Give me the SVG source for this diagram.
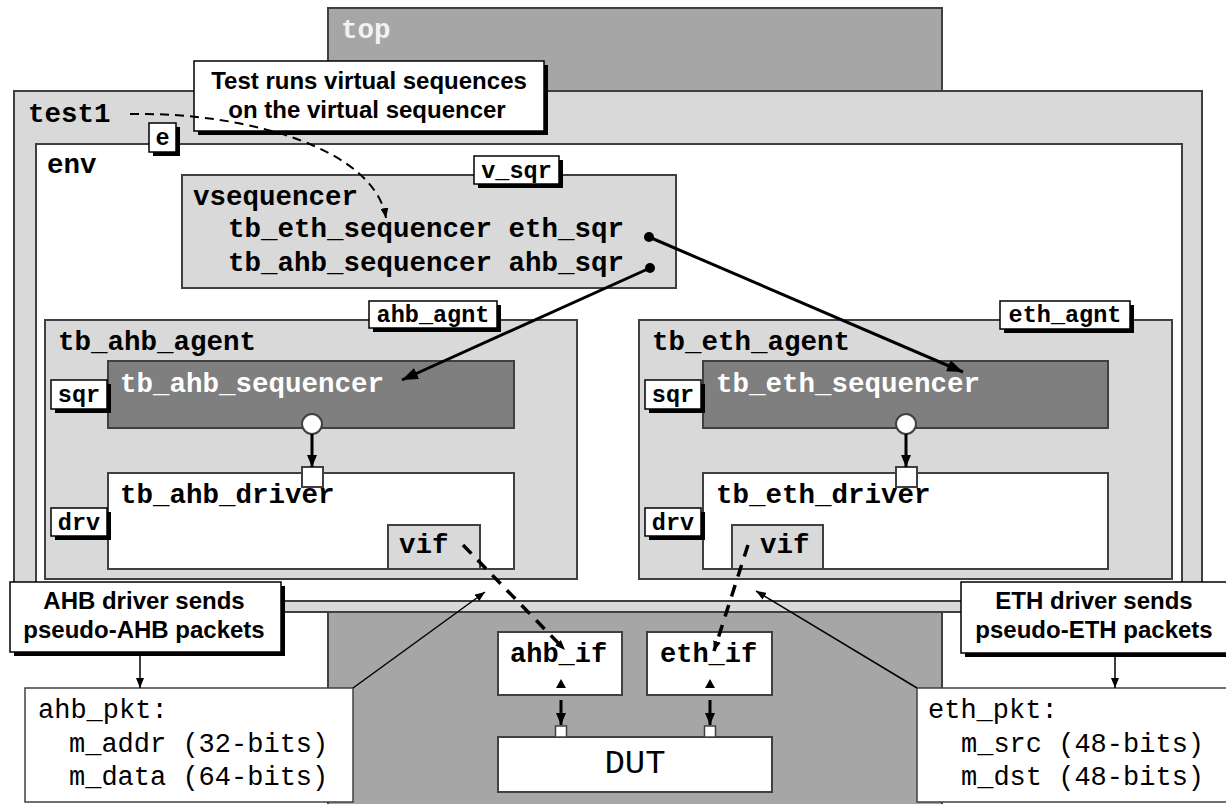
<svg xmlns="http://www.w3.org/2000/svg" width="1226" height="804" viewBox="0 0 1226 804">
<defs>
<style>
.box{stroke:#404040;stroke-width:2}
.lb{fill:#fff;stroke:#000;stroke-width:1.5}
.sh{fill:#000}
.mono{font-family:"Liberation Mono","DejaVu Sans Mono",monospace;font-weight:bold;font-size:27.5px;fill:#000}
.monoR{font-family:"Liberation Mono","DejaVu Sans Mono",monospace;font-weight:normal;font-size:27px;fill:#000}
.lbl{font-family:"Liberation Mono","DejaVu Sans Mono",monospace;font-weight:bold;font-size:23.5px;fill:#000;text-anchor:middle}
.sans{font-family:"Liberation Sans",Arial,sans-serif;font-weight:bold;font-size:24px;fill:#000;text-anchor:middle}
.thick{stroke:#000;stroke-width:3;fill:none}
.thin{stroke:#000;stroke-width:1.5;fill:none}
.dash{stroke:#000;stroke-width:3.5;fill:none;stroke-dasharray:12 9}
</style>
<marker id="ah" viewBox="0 0 16 12" markerUnits="userSpaceOnUse" markerWidth="16" markerHeight="12" refX="16" refY="6" orient="auto"><path d="M0,0 L16,6 L0,12 Z" fill="#000"/></marker>
<marker id="am" viewBox="0 0 12 10" markerUnits="userSpaceOnUse" markerWidth="12" markerHeight="10" refX="12" refY="5" orient="auto"><path d="M0,0 L12,5 L0,10 Z" fill="#000"/></marker>
<marker id="as" viewBox="0 0 10 8" markerUnits="userSpaceOnUse" markerWidth="10" markerHeight="8" refX="10" refY="4" orient="auto"><path d="M0,0 L10,4 L0,8 Z" fill="#000"/></marker>
</defs>
<rect width="1226" height="804" fill="#fff"/>

<g id="top">
<rect x="328" y="8" width="614" height="810" fill="#a6a6a6" class="box"/>
<text x="341" y="38" class="mono" fill="#f2f2f2" style="fill:#f2f2f2">top</text>
</g>

<g id="test1">
<rect x="14" y="91" width="1188" height="521" fill="#d9d9d9" class="box"/>
<text x="28" y="122" class="mono">test1</text>
</g>

<g id="env">
<rect x="36" y="144" width="1146" height="457" fill="#fff" class="box"/>
<text x="47" y="173" class="mono">env</text>
<rect x="153" y="127" width="27" height="29" class="sh"/>
<rect x="149" y="123" width="27" height="29" class="lb"/>
<text x="162.5" y="145" class="lbl">e</text>
</g>

<g id="vsequencer">
<rect x="182" y="175" width="494" height="113" fill="#d9d9d9" class="box"/>
<text x="193" y="205" class="mono">vsequencer</text>
<text x="228" y="237" class="mono">tb_eth_sequencer eth_sqr</text>
<text x="228" y="271" class="mono">tb_ahb_sequencer ahb_sqr</text>
<rect x="478" y="160" width="85" height="28" class="sh"/>
<rect x="474" y="156" width="85" height="28" class="lb"/>
<text x="516.5" y="178" class="lbl">v_sqr</text>
<circle cx="649" cy="237" r="5" fill="#000"/>
<circle cx="650" cy="268" r="5" fill="#000"/>
</g>

<g id="tb_ahb_agent">
<rect x="45" y="320" width="532" height="259" fill="#d9d9d9" class="box"/>
<text x="58" y="350" class="mono">tb_ahb_agent</text>
<rect x="373" y="305" width="128" height="27" class="sh"/>
<rect x="369" y="301" width="128" height="27" class="lb"/>
<text x="433" y="322" class="lbl">ahb_agnt</text>
</g>

<g id="tb_ahb_sequencer">
<rect x="108" y="361" width="406" height="67" fill="#7f7f7f" class="box"/>
<text x="120" y="392" class="mono" style="fill:#fff">tb_ahb_sequencer</text>
<rect x="55" y="384" width="56" height="29" class="sh"/>
<rect x="51" y="380" width="56" height="29" class="lb"/>
<text x="79" y="402" class="lbl">sqr</text>
<circle cx="312" cy="424" r="10" fill="#fff" class="box"/>
</g>

<g id="tb_ahb_driver">
<rect x="108" y="473" width="406" height="96" fill="#fff" class="box"/>
<text x="120" y="503" class="mono">tb_ahb_driver</text>
<rect x="302" y="467" width="21" height="20" fill="#fff" class="box"/>
<rect x="55" y="512" width="56" height="28" class="sh"/>
<rect x="51" y="508" width="56" height="28" class="lb"/>
<text x="79" y="530" class="lbl">drv</text>
<rect x="388" y="525" width="92" height="44" fill="#d9d9d9" class="box"/>
<text x="399" y="553" class="mono">vif</text>
</g>

<g id="tb_eth_agent">
<rect x="639" y="320" width="533" height="259" fill="#d9d9d9" class="box"/>
<text x="652" y="350" class="mono">tb_eth_agent</text>
<rect x="1004" y="305" width="130" height="28" class="sh"/>
<rect x="1000" y="301" width="130" height="28" class="lb"/>
<text x="1065" y="322" class="lbl">eth_agnt</text>
</g>

<g id="tb_eth_sequencer">
<rect x="703" y="361" width="405" height="67" fill="#7f7f7f" class="box"/>
<text x="716" y="392" class="mono" style="fill:#fff">tb_eth_sequencer</text>
<rect x="649" y="384" width="56" height="29" class="sh"/>
<rect x="645" y="380" width="56" height="29" class="lb"/>
<text x="673" y="402" class="lbl">sqr</text>
<circle cx="906" cy="424" r="10" fill="#fff" class="box"/>
</g>

<g id="tb_eth_driver">
<rect x="703" y="473" width="405" height="96" fill="#fff" class="box"/>
<text x="716" y="503" class="mono">tb_eth_driver</text>
<rect x="896" y="467" width="21" height="20" fill="#fff" class="box"/>
<rect x="649" y="512" width="56" height="28" class="sh"/>
<rect x="645" y="508" width="56" height="28" class="lb"/>
<text x="673" y="530" class="lbl">drv</text>
<rect x="732" y="525" width="91" height="44" fill="#d9d9d9" class="box"/>
<text x="760" y="553" class="mono">vif</text>
</g>

<g id="ahb_if">
<rect x="498" y="632" width="124" height="63" fill="#fff" class="box"/>
<text x="510" y="662" class="mono" style="font-size:27px">ahb_if</text>
<polygon points="561,679 566,688 556,688" fill="#000"/>
</g>

<g id="eth_if">
<rect x="647" y="632" width="125" height="63" fill="#fff" class="box"/>
<text x="660" y="662" class="mono" style="font-size:27px">eth_if</text>
<polygon points="710,679 715,688 705,688" fill="#000"/>
</g>

<g id="DUT">
<rect x="498" y="737" width="274" height="55" fill="#fff" class="box"/>
<text x="635" y="773" class="monoR" style="font-size:34px;text-anchor:middle">DUT</text>
<rect x="555.5" y="726" width="11" height="11" fill="#fff" class="box" style="stroke-width:1.5"/>
<rect x="704.5" y="726" width="11" height="11" fill="#fff" class="box" style="stroke-width:1.5"/>
</g>

<g id="callout_test">
<rect x="198" y="65" width="350" height="70" class="sh"/>
<rect x="194" y="61" width="350" height="70" class="lb"/>
<text x="369" y="89" class="sans">Test runs virtual sequences</text>
<text x="367" y="118" class="sans">on the virtual sequencer</text>
</g>

<g id="callout_ahb">
<rect x="14" y="586" width="271" height="70" class="sh"/>
<rect x="10" y="582" width="271" height="70" class="lb"/>
<text x="144" y="609" class="sans">AHB driver sends</text>
<text x="144" y="638" class="sans">pseudo-AHB packets</text>
</g>

<g id="callout_eth">
<rect x="965" y="586" width="270" height="71" class="sh"/>
<rect x="961" y="582" width="270" height="71" class="lb"/>
<text x="1094" y="609" class="sans">ETH driver sends</text>
<text x="1094" y="638" class="sans">pseudo-ETH packets</text>
</g>

<g id="ahb_pkt">
<rect x="25" y="688" width="328" height="114" fill="#fff" class="box" style="stroke-width:1.5"/>
<text x="38" y="718" class="monoR">ahb_pkt:</text>
<text x="69" y="752" class="monoR">m_addr (32-bits)</text>
<text x="69" y="785" class="monoR">m_data (64-bits)</text>
</g>

<g id="eth_pkt">
<rect x="917" y="688" width="320" height="114" fill="#fff" class="box" style="stroke-width:1.5"/>
<text x="928" y="718" class="monoR">eth_pkt:</text>
<text x="961" y="752" class="monoR">m_src (48-bits)</text>
<text x="961" y="785" class="monoR">m_dst (48-bits)</text>
</g>

<g id="connectors">
<path d="M130,114 C250,112 375,150 386,218" stroke="#000" stroke-width="2" fill="none" stroke-dasharray="9 6" marker-end="url(#as)"/>
<line x1="650" y1="268" x2="402" y2="380" class="thick" marker-end="url(#ah)"/>
<line x1="649" y1="237" x2="963" y2="372" class="thick" marker-end="url(#ah)"/>
<line x1="312" y1="434" x2="312" y2="467" class="thick" marker-end="url(#am)"/>
<line x1="906" y1="434" x2="906" y2="467" class="thick" marker-end="url(#am)"/>
<line x1="463" y1="545" x2="565" y2="650" class="dash" marker-end="url(#as)"/>
<line x1="748" y1="545" x2="714" y2="651" class="dash" marker-end="url(#as)"/>
<line x1="561" y1="700" x2="561" y2="725" class="thick" marker-end="url(#am)"/>
<line x1="710" y1="700" x2="710" y2="725" class="thick" marker-end="url(#am)"/>
<line x1="140" y1="656" x2="140" y2="688" class="thin" marker-end="url(#as)"/>
<line x1="1115" y1="657" x2="1115" y2="688" class="thin" marker-end="url(#as)"/>
<line x1="353" y1="688" x2="485" y2="592" class="thin" marker-end="url(#as)"/>
<line x1="917" y1="688" x2="756" y2="591" class="thin" marker-end="url(#as)"/>
</g>
</svg>
